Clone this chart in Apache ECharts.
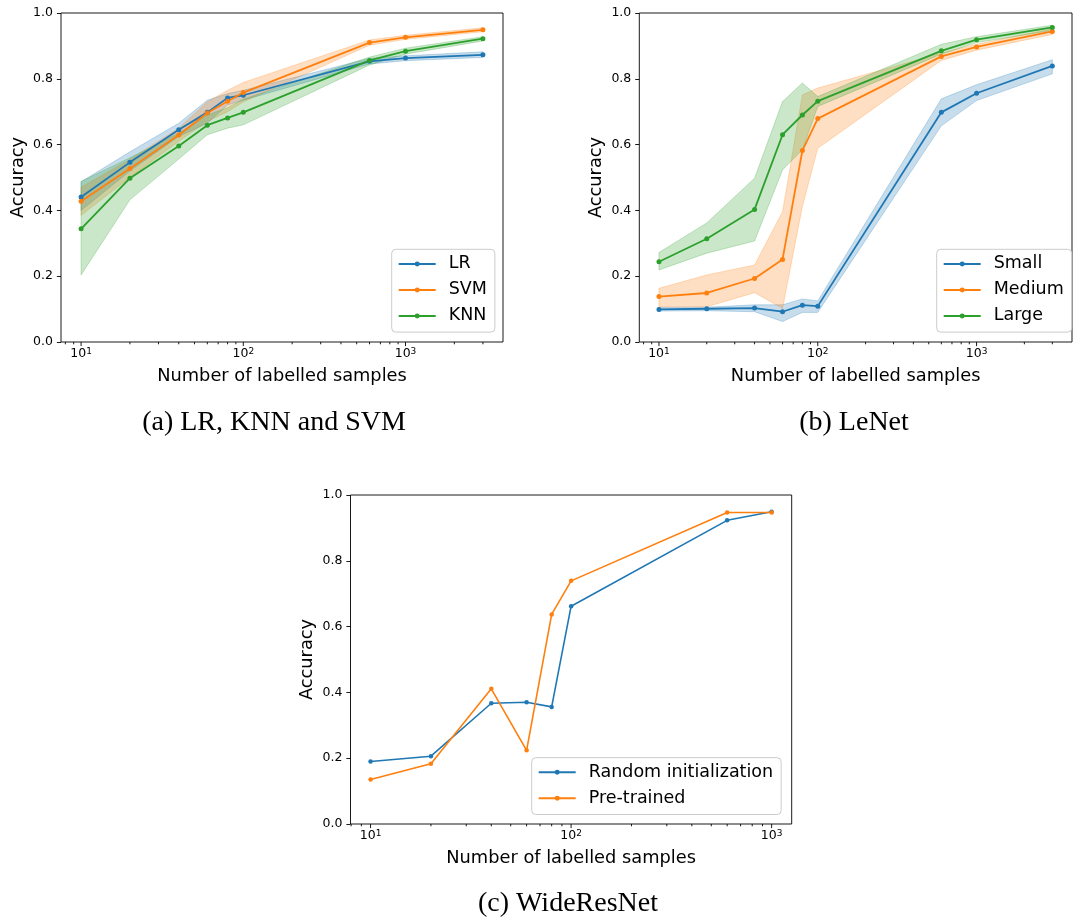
<!DOCTYPE html>
<html><head><meta charset="utf-8">
<script src="https://cdn.jsdelivr.net/npm/echarts@6/dist/echarts.min.js"></script>
<style>html,body{margin:0;padding:0;background:#fff}#c{width:1075px;height:917px}</style>
</head><body><div id="c"></div>
<script>
// ---------- data ----------
const samplesAB = [10, 20, 40, 60, 80, 100, 600, 1000, 3000];
const samplesC  = [10, 20, 40, 60, 80, 100, 600, 1000];

// (a) LR, KNN and SVM
const lrMean  = [0.441, 0.546, 0.645, 0.698, 0.742, 0.750, 0.853, 0.863, 0.873];
const lrLow   = [0.400, 0.520, 0.625, 0.665, 0.720, 0.735, 0.845, 0.855, 0.865];
const lrHigh  = [0.487, 0.578, 0.665, 0.735, 0.755, 0.765, 0.862, 0.870, 0.882];
const svmMean = [0.428, 0.527, 0.629, 0.696, 0.732, 0.758, 0.910, 0.926, 0.949];
const svmLow  = [0.385, 0.500, 0.610, 0.670, 0.700, 0.730, 0.902, 0.920, 0.943];
const svmHigh = [0.470, 0.555, 0.650, 0.730, 0.765, 0.789, 0.918, 0.932, 0.955];
const knnMean = [0.344, 0.498, 0.596, 0.659, 0.681, 0.698, 0.856, 0.884, 0.922];
const knnLow  = [0.204, 0.432, 0.556, 0.630, 0.650, 0.660, 0.842, 0.875, 0.915];
const knnHigh = [0.488, 0.560, 0.635, 0.690, 0.712, 0.738, 0.866, 0.893, 0.928];

// (b) LeNet
const smallMean  = [0.099, 0.101, 0.103, 0.092, 0.112, 0.109, 0.698, 0.756, 0.839];
const smallLow   = [0.094, 0.095, 0.092, 0.062, 0.090, 0.090, 0.657, 0.734, 0.815];
const smallHigh  = [0.105, 0.106, 0.113, 0.113, 0.131, 0.125, 0.739, 0.782, 0.858];
const mediumMean = [0.138, 0.149, 0.193, 0.251, 0.582, 0.679, 0.868, 0.897, 0.944];
const mediumLow  = [0.107, 0.107, 0.150, 0.102, 0.412, 0.589, 0.856, 0.887, 0.935];
const mediumHigh = [0.163, 0.204, 0.234, 0.396, 0.751, 0.772, 0.878, 0.905, 0.952];
const largeMean  = [0.244, 0.314, 0.403, 0.630, 0.690, 0.732, 0.885, 0.919, 0.956];
const largeLow   = [0.219, 0.270, 0.307, 0.523, 0.584, 0.716, 0.875, 0.910, 0.947];
const largeHigh  = [0.272, 0.362, 0.498, 0.731, 0.787, 0.746, 0.905, 0.928, 0.963];

// (c) WideResNet
const randomInit = [0.190, 0.206, 0.367, 0.370, 0.356, 0.662, 0.923, 0.949];
const preTrained = [0.135, 0.183, 0.411, 0.224, 0.637, 0.739, 0.947, 0.947];

const yTickStep = 0.2;
const captions = ['(a) LR, KNN and SVM', '(b) LeNet', '(c) WideResNet'];
const xTitle = 'Number of labelled samples';
const yTitle = 'Accuracy';

// ---------- styling ----------
const C0 = '#1f77b4', C1 = '#ff7f0e', C2 = '#2ca02c';
const SANS = "'DejaVu Sans', sans-serif";
const SERIF = "'Liberation Serif', 'Times New Roman', serif";
const rgba = (hex, a) => {
  const n = parseInt(hex.slice(1), 16);
  return `rgba(${n >> 16},${(n >> 8) & 255},${n & 255},${a})`;
};

const grids = [
  { left: 61,    top: 13,  width: 442,   height: 329 },
  { left: 639.3, top: 13,  width: 440.7, height: 329 },
  { left: 350.5, top: 495, width: 441.2, height: 329 }
];

function logRange(xs) {
  const a = Math.log10(Math.min(...xs)), b = Math.log10(Math.max(...xs));
  const m = (b - a) * 0.05;
  return [Math.pow(10, a - m), Math.pow(10, b + m)];
}
function tickValues(range) {
  const out = [];
  for (let k = 0; k <= 4; k++) {
    for (let d = 1; d <= 9; d++) {
      const v = d * Math.pow(10, k);
      if (v >= range[0] && v <= range[1]) out.push([v, d === 1 ? 1 : 0]);
    }
  }
  return out;
}
const isPow10 = v => Math.abs(Math.log10(v) - Math.round(Math.log10(v))) < 1e-6;

const xAxis = [], yAxis = [], series = [];
const ranges = [logRange(samplesAB), logRange(samplesAB), logRange(samplesC)];

ranges.forEach((r, i) => {
  xAxis.push({
    type: 'log', logBase: 10, gridIndex: i, min: r[0], max: r[1],
    axisLine: { show: false }, axisTick: { show: false }, splitLine: { show: false },
    minorTick: { show: false },
    axisLabel: {
      color: '#000', fontFamily: SANS, fontSize: 12.5, margin: 5,
      formatter: v => isPow10(v) ? '{b|10}{s|' + Math.round(Math.log10(v)) + '}' : '',
      rich: {
        b: { color: '#000', fontFamily: SANS, fontSize: 12.5, lineHeight: 14 },
        s: { color: '#000', fontFamily: SANS, fontSize: 9, lineHeight: 8, verticalAlign: 'top' }
      }
    },
    name: xTitle, nameLocation: 'middle', nameGap: 25,
    nameTextStyle: { color: '#000', fontFamily: SANS, fontSize: 17.8 }
  });
  yAxis.push({
    type: 'value', gridIndex: i, min: 0, max: 1, interval: yTickStep,
    axisLine: { show: false }, splitLine: { show: false },
    axisTick: { show: true, length: 4.1, lineStyle: { color: '#000', width: 0.9 } },
    axisLabel: { color: '#000', fontFamily: SANS, fontSize: 12.5, margin: 8, formatter: v => v.toFixed(1) },
    name: yTitle, nameLocation: 'middle', nameGap: 34,
    nameTextStyle: { color: '#000', fontFamily: SANS, fontSize: 17.8 }
  });
});

function addBand(idx, xs, lo, hi, color) {
  series.push({
    type: 'custom', xAxisIndex: idx, yAxisIndex: idx, silent: true, z: 1,
    data: xs.map((x, i) => [x, lo[i], hi[i]]),
    encode: { x: 0, y: [1, 2] },
    renderItem: (params, api) => {
      if (params.dataIndex !== 0) return null;
      const pts = [];
      for (let i = 0; i < xs.length; i++) pts.push(api.coord([xs[i], hi[i]]));
      for (let i = xs.length - 1; i >= 0; i--) pts.push(api.coord([xs[i], lo[i]]));
      return { type: 'polygon', shape: { points: pts },
        style: { fill: rgba(color, 0.25), stroke: rgba(color, 0.25), lineWidth: 1 } };
    }
  });
}
function addLine(idx, name, xs, ys, color, width, size) {
  series.push({
    type: 'line', name, xAxisIndex: idx, yAxisIndex: idx, z: 3,
    data: xs.map((x, i) => [x, ys[i]]),
    symbol: 'circle', symbolSize: size, showSymbol: true,
    lineStyle: { color, width }, itemStyle: { color },
    emphasis: { disabled: true }
  });
}
function addTicks(idx, range) {
  series.push({
    type: 'custom', xAxisIndex: idx, yAxisIndex: idx, silent: true, z: 4, clip: false,
    data: tickValues(range), encode: { x: 0 },
    renderItem: (params, api) => {
      const p = api.coord([api.value(0), 0]);
      const len = api.value(1) ? 4.1 : 2.3;
      return { type: 'line', shape: { x1: p[0], y1: p[1], x2: p[0], y2: p[1] + len },
        style: { stroke: '#000', lineWidth: 0.9 } };
    }
  });
}

// (a)
addBand(0, samplesAB, lrLow, lrHigh, C0);
addBand(0, samplesAB, svmLow, svmHigh, C1);
addBand(0, samplesAB, knnLow, knnHigh, C2);
addLine(0, 'LR', samplesAB, lrMean, C0, 1.8, 5);
addLine(0, 'SVM', samplesAB, svmMean, C1, 1.8, 5);
addLine(0, 'KNN', samplesAB, knnMean, C2, 1.8, 5);
addTicks(0, ranges[0]);
// (b)
addBand(1, samplesAB, smallLow, smallHigh, C0);
addBand(1, samplesAB, mediumLow, mediumHigh, C1);
addBand(1, samplesAB, largeLow, largeHigh, C2);
addLine(1, 'Small', samplesAB, smallMean, C0, 1.8, 5);
addLine(1, 'Medium', samplesAB, mediumMean, C1, 1.8, 5);
addLine(1, 'Large', samplesAB, largeMean, C2, 1.8, 5);
addTicks(1, ranges[1]);
// (c)
addLine(2, 'Random initialization', samplesC, randomInit, C0, 1.6, 4.5);
addLine(2, 'Pre-trained', samplesC, preTrained, C1, 1.6, 4.5);
addTicks(2, ranges[2]);

const legendBase = {
  orient: 'vertical', itemWidth: 37, itemHeight: 6.2, itemGap: 8,
  padding: [5.6, 8, 7.2, 6],
  backgroundColor: 'rgba(255,255,255,0.8)', borderColor: '#cccccc', borderWidth: 1, borderRadius: 4,
  textStyle: { color: '#000', fontFamily: SANS, fontSize: 17.5, lineHeight: 18, padding: [0, 0, 0, 8] },
  selectedMode: false
};
const legend = [
  Object.assign({}, legendBase, { data: ['LR', 'SVM', 'KNN'], left: 391.7, top: 249.3 }),
  Object.assign({}, legendBase, { data: ['Small', 'Medium', 'Large'], left: 936.7, top: 249.3 }),
  Object.assign({}, legendBase, { data: ['Random initialization', 'Pre-trained'], left: 531.7, top: 757.7 })
];

const captionPos = [[274, 423], [854, 423], [568, 904]];
const title = captions.map((t, i) => ({
  text: t, left: captionPos[i][0], top: captionPos[i][1], padding: 0,
  textAlign: 'center', textVerticalAlign: 'middle',
  textStyle: { color: '#000', fontFamily: SERIF, fontSize: 28, fontWeight: 'normal' }
}));

const chart = echarts.init(document.getElementById('c'), null, { renderer: 'canvas' });
chart.setOption({
  animation: false,
  backgroundColor: '#fff',
  title,
  legend,
  grid: grids.map(g => Object.assign({ show: true, borderColor: '#000', borderWidth: 0.9, backgroundColor: 'transparent', containLabel: false }, g)),
  xAxis, yAxis, series
});
</script></body></html>
